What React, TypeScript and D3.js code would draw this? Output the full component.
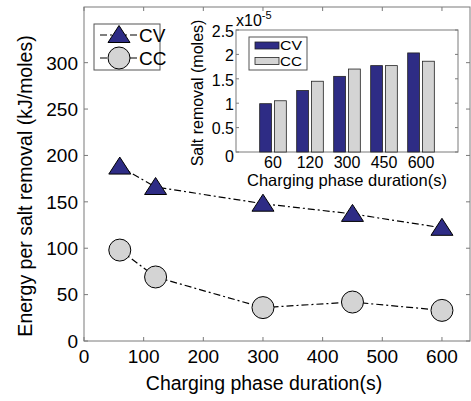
import React, { useRef, useEffect } from 'react';
import * as d3 from 'd3';

// Charging phase durations (s)
const durations = [60, 120, 300, 450, 600];
// Energy per salt removal (kJ/moles)
const cvEnergy = [188, 166, 148, 137, 122];
const ccEnergy = [98, 69, 36, 42, 33];
// Inset: salt removal (x1e-5 moles)
const durationLabels = ['60', '120', '300', '450', '600'];
const cvSalt = [0.99, 1.26, 1.55, 1.77, 2.03];
const ccSalt = [1.05, 1.45, 1.70, 1.77, 1.86];

const xTicks = [0, 100, 200, 300, 400, 500, 600];
const yTicks = [0, 50, 100, 150, 200, 250, 300];
const insetYTicks = [0, 0.5, 1, 1.5, 2, 2.5];

const NAVY = '#2e2c85';
const GREY = '#d4d4d4';
const AXIS = '#7a7a7a';
const FONT = '"Liberation Sans", Arial, Helvetica, sans-serif';
const DASH = '7,3,2,3';

function App() {
  const svgRef = useRef<SVGSVGElement | null>(null);
  const width = 471;
  const height = 401;

  useEffect(() => {
    const svg = d3.select(svgRef.current);
    svg.selectAll('*').remove();
    svg.attr('width', width).attr('height', height).style('font-family', FONT);

    // main scales
    const x = d3.scaleLinear().domain([0, 647]).range([84, 470]);
    const y = d3.scaleLinear().domain([0, 360]).range([341, 7]);

    // axes box
    svg.append('rect')
      .attr('x', x(0)).attr('y', y(360))
      .attr('width', x(647) - x(0)).attr('height', y(0) - y(360))
      .attr('fill', 'white').attr('stroke', AXIS).attr('stroke-width', 1);

    // ticks on all four sides (inward)
    const tk = 4;
    xTicks.forEach(t => {
      svg.append('line').attr('x1', x(t)).attr('x2', x(t))
        .attr('y1', y(0)).attr('y2', y(0) - tk).attr('stroke', AXIS);
      svg.append('line').attr('x1', x(t)).attr('x2', x(t))
        .attr('y1', y(360)).attr('y2', y(360) + tk).attr('stroke', AXIS);
    });
    yTicks.forEach(t => {
      svg.append('line').attr('x1', x(0)).attr('x2', x(0) + tk)
        .attr('y1', y(t)).attr('y2', y(t)).attr('stroke', AXIS);
      svg.append('line').attr('x1', x(647)).attr('x2', x(647) - tk)
        .attr('y1', y(t)).attr('y2', y(t)).attr('stroke', AXIS);
    });

    // tick labels
    svg.selectAll('.xtl').data(xTicks).enter().append('text')
      .attr('x', d => x(d)).attr('y', 363)
      .attr('text-anchor', 'middle').style('font-size', '19px')
      .text(d => d);
    svg.selectAll('.ytl').data(yTicks).enter().append('text')
      .attr('x', 78).attr('y', d => y(d)).attr('dy', '0.36em')
      .attr('text-anchor', 'end').style('font-size', '19px')
      .text(d => d);

    // axis labels
    svg.append('text')
      .attr('x', 264).attr('y', 390)
      .attr('text-anchor', 'middle').style('font-size', '19.5px')
      .text('Charging phase duration(s)');
    svg.append('text')
      .attr('transform', 'translate(32,186) rotate(-90)')
      .attr('text-anchor', 'middle').style('font-size', '19.5px')
      .text('Energy per salt removal (kJ/moles)');

    // lines
    const line = d3.line<number>()
      .x((_, i) => x(durations[i]))
      .y(d => y(d));

    svg.append('path').datum(cvEnergy)
      .attr('d', line).attr('fill', 'none')
      .attr('stroke', 'black').attr('stroke-width', 1.2)
      .attr('stroke-dasharray', DASH);
    svg.append('path').datum(ccEnergy)
      .attr('d', line).attr('fill', 'none')
      .attr('stroke', 'black').attr('stroke-width', 1.2)
      .attr('stroke-dasharray', DASH);

    const tri = 'M0,-9.5L11,7.5L-11,7.5Z';

    svg.selectAll('.cv').data(cvEnergy).enter().append('path')
      .attr('d', tri)
      .attr('transform', (d, i) => `translate(${x(durations[i])},${y(d)})`)
      .attr('fill', NAVY).attr('stroke', 'black').attr('stroke-width', 1);
    svg.selectAll('.cc').data(ccEnergy).enter().append('circle')
      .attr('cx', (_, i) => x(durations[i])).attr('cy', d => y(d)).attr('r', 11)
      .attr('fill', GREY).attr('stroke', 'black').attr('stroke-width', 1);

    // main legend
    const lg = svg.append('g');
    lg.append('rect').attr('x', 94).attr('y', 24).attr('width', 66).attr('height', 46)
      .attr('fill', 'white').attr('stroke', '#555').attr('stroke-width', 1);
    [35, 58].forEach((ly, k) => {
      lg.append('line').attr('x1', 100).attr('x2', 138).attr('y1', ly).attr('y2', ly)
        .attr('stroke', 'black').attr('stroke-width', 1.2).attr('stroke-dasharray', DASH);
      if (k === 0) {
        lg.append('path').attr('d', tri).attr('transform', `translate(119,${ly})`)
          .attr('fill', NAVY).attr('stroke', 'black');
      } else {
        lg.append('circle').attr('cx', 119).attr('cy', ly).attr('r', 11)
          .attr('fill', GREY).attr('stroke', 'black');
      }
      lg.append('text').attr('x', 139).attr('y', ly + 7)
        .style('font-size', '19px').text(k === 0 ? 'CV' : 'CC');
    });

    // ---- inset bar chart ----
    const ix = d3.scaleLinear().domain([0, 6]).range([236, 458]);
    const iy = d3.scaleLinear().domain([0, 2.5]).range([152, 30]);
    const inset = svg.append('g');

    inset.append('rect')
      .attr('x', ix(0)).attr('y', iy(2.5))
      .attr('width', ix(6) - ix(0)).attr('height', iy(0) - iy(2.5))
      .attr('fill', 'white').attr('stroke', AXIS);

    insetYTicks.forEach(t => {
      inset.append('line').attr('x1', ix(0)).attr('x2', ix(0) + 3)
        .attr('y1', iy(t)).attr('y2', iy(t)).attr('stroke', AXIS);
      inset.append('line').attr('x1', ix(6)).attr('x2', ix(6) - 3)
        .attr('y1', iy(t)).attr('y2', iy(t)).attr('stroke', AXIS);
    });
    inset.selectAll('.iytl').data(insetYTicks).enter().append('text')
      .attr('x', 234).attr('y', d => iy(d) + (d === 0 ? 4 : 1)).attr('dy', '0.36em')
      .attr('text-anchor', 'end').style('font-size', '16px')
      .text(d => d);

    const bw = 0.32;
    const off = 0.2;
    inset.selectAll('.bcv').data(cvSalt).enter().append('rect')
      .attr('x', (_, i) => ix(i + 1 - off - bw / 2))
      .attr('y', d => iy(d))
      .attr('width', ix(bw) - ix(0))
      .attr('height', d => iy(0) - iy(d))
      .attr('fill', NAVY).attr('stroke', '#222').attr('stroke-width', 0.8);
    inset.selectAll('.bcc').data(ccSalt).enter().append('rect')
      .attr('x', (_, i) => ix(i + 1 + off - bw / 2))
      .attr('y', d => iy(d))
      .attr('width', ix(bw) - ix(0))
      .attr('height', d => iy(0) - iy(d))
      .attr('fill', GREY).attr('stroke', '#222').attr('stroke-width', 0.8);

    inset.selectAll('.ixtl').data(durationLabels).enter().append('text')
      .attr('x', (_, i) => ix(i + 1)).attr('y', 168)
      .attr('text-anchor', 'middle').style('font-size', '16px')
      .text(d => d);
    inset.append('text')
      .attr('x', 347).attr('y', 186)
      .attr('text-anchor', 'middle').style('font-size', '16.5px')
      .text('Charging phase duration(s)');
    inset.append('text')
      .attr('transform', 'translate(203,93) rotate(-90)')
      .attr('text-anchor', 'middle').style('font-size', '16px')
      .text('Salt removal (moles)');

    const exp = inset.append('text').attr('x', 236).attr('y', 26).style('font-size', '16px');
    exp.append('tspan').text('x10');
    exp.append('tspan').attr('dy', -7).style('font-size', '11px').text('-5');

    // inset legend
    inset.append('rect').attr('x', 249).attr('y', 37).attr('width', 58).attr('height', 33)
      .attr('fill', 'white').attr('stroke', '#555');
    [[42, NAVY, 'CV'], [57.5, GREY, 'CC']].forEach(([ly, col, lab]) => {
      inset.append('rect').attr('x', 255).attr('y', ly as number).attr('width', 24).attr('height', 7)
        .attr('fill', col as string).attr('stroke', '#222').attr('stroke-width', 0.8);
      inset.append('text').attr('x', 280).attr('y', (ly as number) + 8)
        .attr('textLength', 22).attr('lengthAdjust', 'spacingAndGlyphs')
        .style('font-size', '13px').text(lab as string);
    });
  }, []);

  return (
    <div style={{ position: 'absolute', left: 0, top: 0 }}>
      <svg ref={svgRef}></svg>
    </div>
  );
}

export default App;
